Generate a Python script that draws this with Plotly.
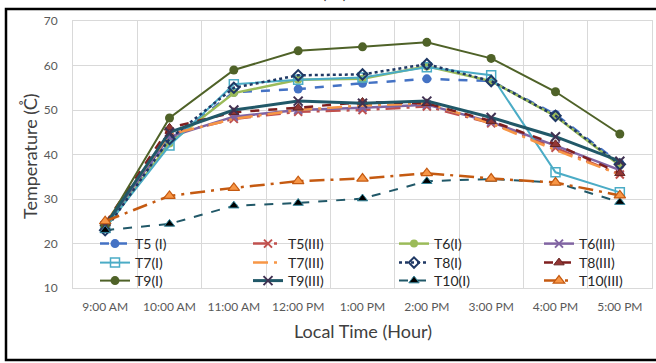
import plotly.graph_objects as go

hours = ["9:00 AM", "10:00 AM", "11:00 AM", "12:00 PM", "1:00 PM", "2:00 PM",
         "3:00 PM", "4:00 PM", "5:00 PM"]

T5_I = [23.5, 43.0, 54.0, 54.7, 56.0, 57.0, 56.5, 49.0, 38.0]
T5_III = [24.0, 44.5, 48.0, 49.6, 50.0, 50.8, 47.0, 41.5, 35.5]
T6_I = [23.5, 42.5, 53.8, 56.8, 57.0, 59.8, 56.5, 48.6, 37.5]
T6_III = [24.0, 44.0, 48.5, 50.0, 50.5, 51.2, 47.3, 42.0, 36.5]
T7_I = [23.5, 42.0, 55.8, 56.8, 57.3, 59.6, 57.8, 36.0, 31.5]
T7_III = [24.5, 44.5, 48.0, 50.0, 51.0, 51.5, 47.0, 41.0, 35.5]
T8_I = [23.0, 43.5, 55.0, 57.8, 58.0, 60.3, 56.5, 48.7, 37.8]
T8_III = [24.5, 46.0, 49.5, 50.5, 51.8, 51.5, 47.5, 42.3, 35.8]
T9_I = [24.0, 48.2, 59.0, 63.3, 64.2, 65.2, 61.6, 54.1, 44.6]
T9_III = [24.0, 45.0, 50.0, 52.0, 51.5, 52.0, 48.3, 44.0, 38.5]
T10_I = [23.0, 24.4, 28.5, 29.1, 30.1, 34.0, 34.5, 33.7, 29.3]
T10_III = [25.0, 30.7, 32.5, 34.0, 34.6, 35.8, 34.6, 33.7, 30.8]

series = [
    ("T5 (I)", T5_I, dict(color="#4472C4", width=2.5, dash="dash"),
     dict(symbol="circle", size=9, color="#4472C4")),
    ("T5(III)", T5_III, dict(color="#C0504D", width=2.5, dash="longdashdot"),
     dict(symbol="x-thin", size=8, line=dict(color="#C0504D", width=2))),
    ("T6(I)", T6_I, dict(color="#9BBB59", width=2.5, dash="solid"),
     dict(symbol="circle", size=8, color="#9BBB59")),
    ("T6(III)", T6_III, dict(color="#8064A2", width=2.5, dash="solid"),
     dict(symbol="x-thin", size=8, line=dict(color="#8064A2", width=2))),
    ("T7(I)", T7_I, dict(color="#4BACC6", width=2, dash="solid"),
     dict(symbol="square-open", size=9, color="#4BACC6", line=dict(width=1.5))),
    ("T7(III)", T7_III, dict(color="#F79646", width=2.5, dash="longdashdot"),
     dict(size=1, opacity=0)),
    ("T8(I)", T8_I, dict(color="#1F3864", width=2.5, dash="dot"),
     dict(symbol="diamond-open", size=8, color="#1F3864", line=dict(width=2))),
    ("T8(III)", T8_III, dict(color="#7F1F1F", width=2.5, dash="dash"),
     dict(symbol="triangle-up", size=9, color="#943634", line=dict(color="#632523", width=1))),
    ("T9(I)", T9_I, dict(color="#4F6228", width=2, dash="solid"),
     dict(symbol="circle", size=9, color="#4F6228")),
    ("T9(III)", T9_III, dict(color="#215868", width=3, dash="solid"),
     dict(symbol="x-thin", size=9, line=dict(color="#403152", width=2))),
    ("T10(I)", T10_I, dict(color="#215868", width=2, dash="dash"),
     dict(symbol="triangle-up", size=9, color="#000000", line=dict(color="#31859C", width=1))),
    ("T10(III)", T10_III, dict(color="#C55A11", width=2.5, dash="longdashdot"),
     dict(symbol="triangle-up", size=10, color="#F79646", line=dict(color="#C55A11", width=1.2))),
]

FONT = "Lato, 'Liberation Sans', sans-serif"
grid = "#D9D9D9"

PW, PH, L, T = 579, 267, 73, 21


def px_x(px):
    return (px - L) / PW


def px_y(py):
    return (T + PH - py) / PH


# legend grid (4 columns x 3 rows), text start x and row centre y in pixels
LEG_COLS = [95, 248, 394, 539]
LEG_ROWS = [243, 262, 280]

fig = go.Figure()
legends = {}
for i, (name, vals, line, marker) in enumerate(series):
    mode = "lines" if name == "T7(III)" else "lines+markers"
    key = "legend" if i == 0 else f"legend{i + 1}"
    fig.add_trace(go.Scatter(x=hours, y=vals, name=name, mode=mode,
                             line=line, marker=marker, legend=key))
    col, row = i % 4, i // 4
    legends[key] = dict(orientation="v", x=px_x(LEG_COLS[col]), y=px_y(LEG_ROWS[row] - 15),
                        xanchor="left", yanchor="top", bgcolor="rgba(0,0,0,0)",
                        font=dict(size=14, color="#262626"), borderwidth=0)

fig.update_layout(
    width=656, height=363,
    margin=dict(l=73, r=4, t=21, b=75, autoexpand=False),
    paper_bgcolor="white", plot_bgcolor="white",
    font=dict(family=FONT, color="#595959", size=12),
    showlegend=True,
    xaxis=dict(type="category", range=[-0.5, 8.5], tickson="boundaries",
               showgrid=True, gridcolor=grid, gridwidth=1,
               showline=True, linecolor=grid, mirror=True,
               ticks="", ticklabelstandoff=8, tickfont=dict(size=12, color="#595959")),
    yaxis=dict(range=[10, 70], dtick=10, showgrid=True, gridcolor=grid,
               showline=True, linecolor=grid, mirror=True, zeroline=False,
               ticks="", ticklabelstandoff=12, tickfont=dict(size=12, color="#595959")),
    annotations=[
        dict(text="Local Time (Hour)", xref="paper", yref="paper", x=0.5, y=px_y(331),
             xanchor="center", yanchor="middle", showarrow=False,
             font=dict(size=18, color="#404040")),
        dict(text="Temperature (C\u030a)", xref="paper", yref="paper", x=px_x(30), y=px_y(156),
             xanchor="center", yanchor="middle", showarrow=False, textangle=-90,
             font=dict(size=18, color="#404040")),
        dict(text="(\u00a0\u00a0\u00a0\u00a0)", xref="paper", yref="paper", x=px_x(334), y=px_y(4),
             xanchor="center", yanchor="bottom", showarrow=False,
             font=dict(size=16, color="#404040")),
    ],
    shapes=[
        dict(type="rect", xref="paper", yref="paper",
             x0=px_x(6), x1=px_x(660), y0=px_y(360), y1=px_y(9),
             line=dict(color="black", width=2.5), fillcolor="rgba(0,0,0,0)", layer="above"),
    ],
    **legends,
)

fig.write_html("out.html", config={"displayModeBar": False},
               post_script="document.body.style.margin='0px';")
